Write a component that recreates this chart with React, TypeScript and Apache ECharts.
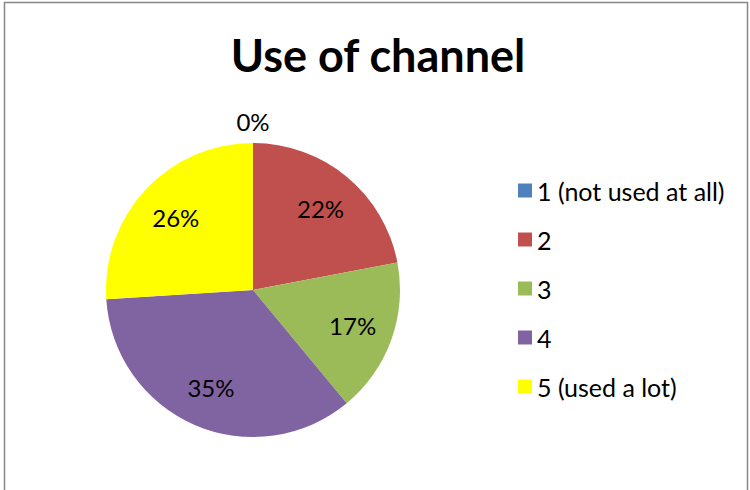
import React, { useEffect, useRef } from "react";
import * as echarts from "echarts";

const titleText = "Use of channel";
const categories = ["1 (not used at all)", "2", "3", "4", "5 (used a lot)"];
const values = [0, 22, 17, 35, 26];
const colors = ["#4F81BD", "#C0504D", "#9BBB59", "#8064A2", "#FFFF00"];

const FONT = "Lato";

export default function App() {
  const ref = useRef<HTMLDivElement>(null);
  useEffect(() => {
    if (!ref.current) return;
    const chart = echarts.init(ref.current, null, { renderer: "svg" });
    const data = categories.map((name, i) => ({
      name,
      value: values[i],
      itemStyle: { color: colors[i] },
    }));
    const R = 147;
    chart.setOption({
      animation: false,
      backgroundColor: "#ffffff",
      title: {
        text: titleText,
        left: 373,
        top: 27,
        textAlign: "center",
        textStyle: { fontFamily: FONT, fontWeight: "bold", fontSize: 45, color: "#000" },
      },
      legend: {
        orient: "vertical",
        left: 513,
        top: 173,
        itemWidth: 14,
        itemHeight: 14,
        itemGap: 24,
        icon: "rect",
        data: categories,
        selectedMode: false,
        textStyle: { fontFamily: FONT, fontSize: 25, color: "#000", lineHeight: 25 },
      },
      graphic: [
        {
          type: "rect",
          shape: { x: 4.5, y: 2.5, width: 743, height: 520 },
          style: { fill: "none", stroke: "#868686", lineWidth: 1.5 },
          silent: true,
        },
      ],
      series: [
        {
          type: "pie",
          center: [253, 290],
          radius: [0, R],
          startAngle: 90,
          clockwise: true,
          label: { show: false },
          labelLine: { show: false },
          data,
          silent: true,
        },
        {
          type: "pie",
          center: [253, 290],
          radius: [R * 0.4, R],
          startAngle: 90,
          clockwise: true,
          silent: true,
          itemStyle: { color: "rgba(0,0,0,0)" },
          label: {
            show: true,
            position: "inside",
            fontFamily: FONT,
            fontSize: 24,
            color: "#000",
            formatter: (p: any) => Math.round(p.percent) + "%",
          },
          labelLine: { show: false },
          labelLayout: (p: any) => {
            if (p.dataIndex === 0) {
              const lr = p.labelRect;
              const cy = lr.y + lr.height / 2;
              return { x: lr.x + lr.width / 2, y: cy - (R * 0.3 + 19), align: "center", verticalAlign: "middle" };
            }
            return {};
          },
          data: categories.map((name, i) => ({ name, value: values[i], itemStyle: { color: "rgba(0,0,0,0)" } })),
        },
      ],
    });
    return () => chart.dispose();
  }, []);
  return (
    <div
      ref={ref}
      style={{ position: "fixed", left: 0, top: 0, width: 750, height: 490 }}
    />
  );
}
